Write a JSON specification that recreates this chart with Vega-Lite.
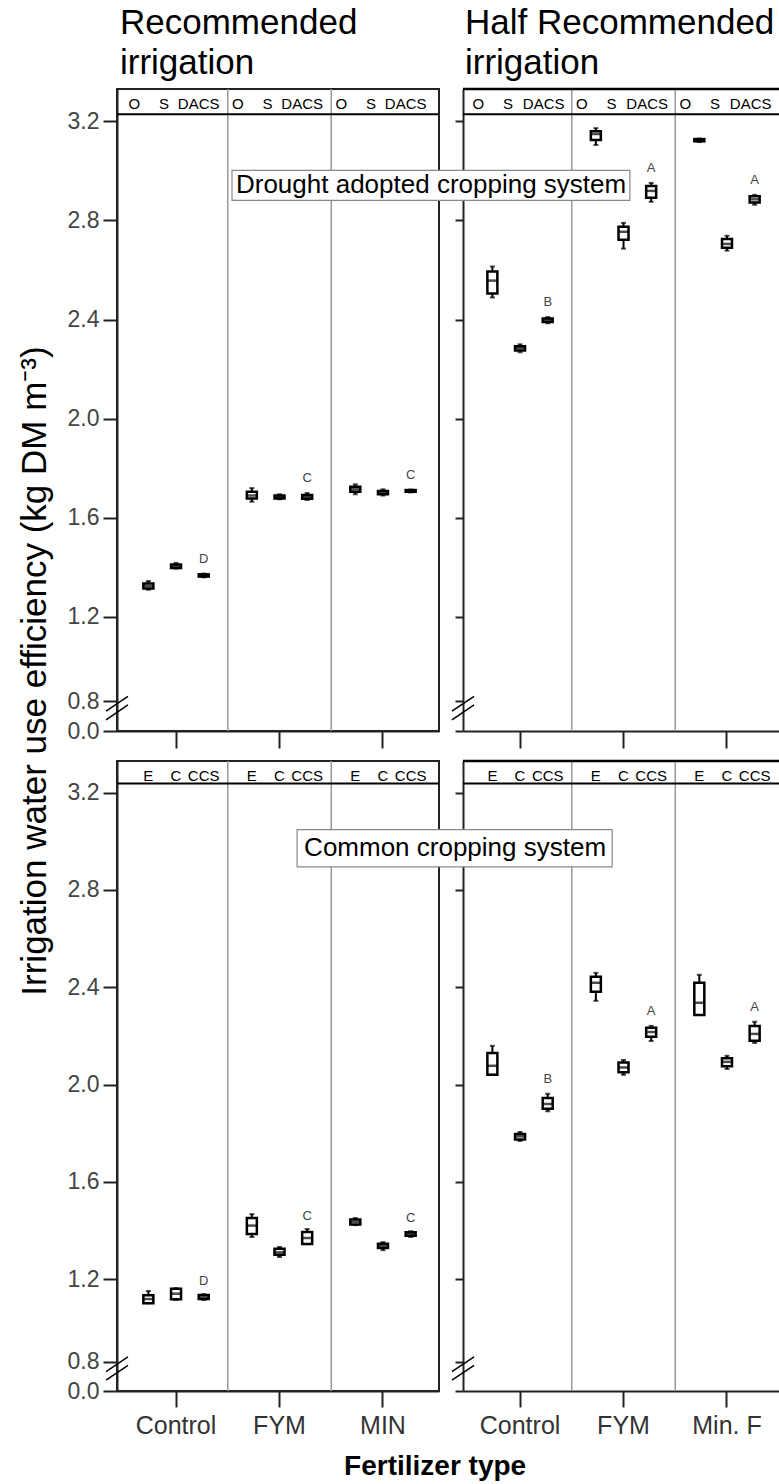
{
  "$schema": "https://vega.github.io/schema/vega-lite/v6.json",
  "padding": {"left": 16, "top": 4, "right": 0, "bottom": 0},
  "background": "white",
  "config": {
    "font": "Liberation Sans",
    "view": {"stroke": "#222", "strokeWidth": 2},
    "axis": {"grid": false}
  },
  "datasets": {
    "iwue": [
      {"irrigation": "Recommended", "system": "DACS", "fertilizer": "Control", "treatment": "O", "lo": 1.31, "q1": 1.315, "median": 1.325, "q3": 1.335, "hi": 1.345},
      {"irrigation": "Recommended", "system": "DACS", "fertilizer": "Control", "treatment": "S", "lo": 1.395, "q1": 1.398, "median": 1.405, "q3": 1.412, "hi": 1.418},
      {"irrigation": "Recommended", "system": "DACS", "fertilizer": "Control", "treatment": "DACS", "lo": 1.36, "q1": 1.363, "median": 1.367, "q3": 1.372, "hi": 1.375, "letter": "D"},
      {"irrigation": "Recommended", "system": "DACS", "fertilizer": "FYM", "treatment": "O", "lo": 1.665, "q1": 1.678, "median": 1.69, "q3": 1.705, "hi": 1.72},
      {"irrigation": "Recommended", "system": "DACS", "fertilizer": "FYM", "treatment": "S", "lo": 1.675, "q1": 1.678, "median": 1.683, "q3": 1.69, "hi": 1.695},
      {"irrigation": "Recommended", "system": "DACS", "fertilizer": "FYM", "treatment": "DACS", "lo": 1.672, "q1": 1.677, "median": 1.683, "q3": 1.692, "hi": 1.7, "letter": "C"},
      {"irrigation": "Recommended", "system": "DACS", "fertilizer": "MIN", "treatment": "O", "lo": 1.695, "q1": 1.705, "median": 1.715, "q3": 1.725, "hi": 1.735},
      {"irrigation": "Recommended", "system": "DACS", "fertilizer": "MIN", "treatment": "S", "lo": 1.69, "q1": 1.695, "median": 1.7, "q3": 1.708, "hi": 1.715},
      {"irrigation": "Recommended", "system": "DACS", "fertilizer": "MIN", "treatment": "DACS", "lo": 1.703, "q1": 1.705, "median": 1.708, "q3": 1.712, "hi": 1.714, "letter": "C"},
      {"irrigation": "Half", "system": "DACS", "fertilizer": "Control", "treatment": "O", "lo": 2.489, "q1": 2.505, "median": 2.557, "q3": 2.594, "hi": 2.614},
      {"irrigation": "Half", "system": "DACS", "fertilizer": "Control", "treatment": "S", "lo": 2.268, "q1": 2.275, "median": 2.284, "q3": 2.292, "hi": 2.3},
      {"irrigation": "Half", "system": "DACS", "fertilizer": "Control", "treatment": "DACS", "lo": 2.385, "q1": 2.39, "median": 2.397, "q3": 2.404, "hi": 2.41, "letter": "B"},
      {"irrigation": "Half", "system": "DACS", "fertilizer": "FYM", "treatment": "O", "lo": 3.104, "q1": 3.124, "median": 3.148, "q3": 3.16, "hi": 3.172},
      {"irrigation": "Half", "system": "DACS", "fertilizer": "FYM", "treatment": "S", "lo": 2.686, "q1": 2.722, "median": 2.754, "q3": 2.774, "hi": 2.79},
      {"irrigation": "Half", "system": "DACS", "fertilizer": "FYM", "treatment": "DACS", "lo": 2.875, "q1": 2.891, "median": 2.919, "q3": 2.939, "hi": 2.951, "letter": "A"},
      {"irrigation": "Half", "system": "DACS", "fertilizer": "Min. F", "treatment": "O", "lo": 3.116, "q1": 3.119, "median": 3.124, "q3": 3.128, "hi": 3.13},
      {"irrigation": "Half", "system": "DACS", "fertilizer": "Min. F", "treatment": "S", "lo": 2.678, "q1": 2.69, "median": 2.705, "q3": 2.725, "hi": 2.738},
      {"irrigation": "Half", "system": "DACS", "fertilizer": "Min. F", "treatment": "DACS", "lo": 2.863, "q1": 2.872, "median": 2.885, "q3": 2.897, "hi": 2.903, "letter": "A"},
      {"irrigation": "Recommended", "system": "CCS", "fertilizer": "Control", "treatment": "E", "lo": 1.101, "q1": 1.101, "median": 1.118, "q3": 1.134, "hi": 1.151},
      {"irrigation": "Recommended", "system": "CCS", "fertilizer": "Control", "treatment": "C", "lo": 1.114, "q1": 1.117, "median": 1.14, "q3": 1.16, "hi": 1.163},
      {"irrigation": "Recommended", "system": "CCS", "fertilizer": "Control", "treatment": "CCS", "lo": 1.114, "q1": 1.118, "median": 1.125, "q3": 1.135, "hi": 1.138, "letter": "D"},
      {"irrigation": "Recommended", "system": "CCS", "fertilizer": "FYM", "treatment": "E", "lo": 1.373, "q1": 1.385, "median": 1.42, "q3": 1.451, "hi": 1.467},
      {"irrigation": "Recommended", "system": "CCS", "fertilizer": "FYM", "treatment": "C", "lo": 1.291, "q1": 1.3, "median": 1.31, "q3": 1.325, "hi": 1.332},
      {"irrigation": "Recommended", "system": "CCS", "fertilizer": "FYM", "treatment": "CCS", "lo": 1.344, "q1": 1.344, "median": 1.369, "q3": 1.394, "hi": 1.406, "letter": "C"},
      {"irrigation": "Recommended", "system": "CCS", "fertilizer": "MIN", "treatment": "E", "lo": 1.422, "q1": 1.425, "median": 1.435, "q3": 1.445, "hi": 1.451},
      {"irrigation": "Recommended", "system": "CCS", "fertilizer": "MIN", "treatment": "C", "lo": 1.319, "q1": 1.328, "median": 1.337, "q3": 1.345, "hi": 1.352},
      {"irrigation": "Recommended", "system": "CCS", "fertilizer": "MIN", "treatment": "CCS", "lo": 1.373, "q1": 1.378, "median": 1.385, "q3": 1.393, "hi": 1.397, "letter": "C"},
      {"irrigation": "Half", "system": "CCS", "fertilizer": "Control", "treatment": "E", "lo": 2.04, "q1": 2.04, "median": 2.077, "q3": 2.13, "hi": 2.159},
      {"irrigation": "Half", "system": "CCS", "fertilizer": "Control", "treatment": "C", "lo": 1.768, "q1": 1.774, "median": 1.787, "q3": 1.797, "hi": 1.805},
      {"irrigation": "Half", "system": "CCS", "fertilizer": "Control", "treatment": "CCS", "lo": 1.89, "q1": 1.9, "median": 1.92, "q3": 1.945, "hi": 1.962, "letter": "B"},
      {"irrigation": "Half", "system": "CCS", "fertilizer": "FYM", "treatment": "E", "lo": 2.344, "q1": 2.381, "median": 2.418, "q3": 2.443, "hi": 2.459},
      {"irrigation": "Half", "system": "CCS", "fertilizer": "FYM", "treatment": "C", "lo": 2.04, "q1": 2.05, "median": 2.07, "q3": 2.09, "hi": 2.101},
      {"irrigation": "Half", "system": "CCS", "fertilizer": "FYM", "treatment": "CCS", "lo": 2.179, "q1": 2.196, "median": 2.216, "q3": 2.233, "hi": 2.241, "letter": "A"},
      {"irrigation": "Half", "system": "CCS", "fertilizer": "Min. F", "treatment": "E", "lo": 2.286, "q1": 2.286, "median": 2.336, "q3": 2.418, "hi": 2.451},
      {"irrigation": "Half", "system": "CCS", "fertilizer": "Min. F", "treatment": "C", "lo": 2.064, "q1": 2.075, "median": 2.093, "q3": 2.108, "hi": 2.118},
      {"irrigation": "Half", "system": "CCS", "fertilizer": "Min. F", "treatment": "CCS", "lo": 2.171, "q1": 2.18, "median": 2.208, "q3": 2.241, "hi": 2.258, "letter": "A"}
    ]
  },
  "columns": 2,
  "spacing": {"row": 30, "column": 24},
  "bounds": "flush",
  "resolve": {"scale": {"x": "independent", "y": "independent", "xOffset": "independent"}},
  "concat": [
    {
      "width": 322, "height": 642,
      "title": {"text": ["Recommended", "irrigation"], "anchor": "start", "frame": "group", "fontSize": 35, "fontWeight": "normal", "lineHeight": 40, "color": "#000", "offset": 7, "dx": 3},
      "layer": [
        {
          "data": {"name": "iwue"},
          "transform": [{"filter": "datum.irrigation === 'Recommended' && datum.system === 'DACS'"}],
          "layer": [
            {
              "encoding": {
                "x": {"field": "fertilizer", "type": "nominal", "title": null, "scale": {"domain": ["Control", "FYM", "MIN"], "paddingInner": 0, "paddingOuter": 0.056, "align": 0.63}, "axis": {"labels": false, "ticks": true, "tickSize": 17, "tickWidth": 2, "tickColor": "#222", "domainColor": "#222", "domainWidth": 2, "grid": false, "title": null}},
                "xOffset": {"field": "treatment", "type": "nominal", "scale": {"domain": ["O", "S", "DACS"], "paddingInner": 0, "paddingOuter": 0.37}}
              },
              "layer": [
                {"mark": {"type": "rule", "color": "#000", "strokeWidth": 2}, "encoding": {"y": {"field": "lo", "type": "quantitative", "title": null, "scale": {"domain": [0.74, 3.33], "nice": false, "zero": false}, "axis": {"values": [0.74, 0.86, 1.2, 1.6, 2.0, 2.4, 2.8, 3.2], "labelExpr": "datum.value < 0.8 ? '0.0' : datum.value < 1 ? '0.8' : format(datum.value, '.1f')", "labels": true, "tickSize": 14, "tickWidth": 2, "tickColor": "#222", "domainColor": "#222", "domainWidth": 2, "labelFontSize": 23, "labelColor": "#444", "labelPadding": 4, "labelOverlap": false, "labelFlush": false, "grid": false, "title": null}}, "y2": {"field": "hi"}}},
                {"mark": {"type": "bar", "width": 10, "fill": "#fff", "stroke": "#000", "strokeWidth": 2.5}, "encoding": {"y": {"field": "q1", "type": "quantitative", "title": null}, "y2": {"field": "q3"}}},
                {"mark": {"type": "tick", "color": "#000", "size": 10, "thickness": 2.5, "orient": "horizontal"}, "encoding": {"y": {"field": "median", "type": "quantitative", "title": null}}},
                {"mark": {"type": "tick", "color": "#000", "size": 5, "thickness": 2, "orient": "horizontal"}, "encoding": {"y": {"field": "lo", "type": "quantitative", "title": null}}},
                {"mark": {"type": "tick", "color": "#000", "size": 5, "thickness": 2, "orient": "horizontal"}, "encoding": {"y": {"field": "hi", "type": "quantitative", "title": null}}},
                {"transform": [{"filter": "datum.treatment === 'O'"}], "mark": {"type": "text", "fontSize": 15, "color": "#000", "baseline": "middle", "dx": -14}, "encoding": {"y": {"datum": 3.27, "type": "quantitative", "title": null}, "text": {"field": "treatment"}}},
                {"transform": [{"filter": "datum.treatment === 'S'"}], "mark": {"type": "text", "fontSize": 15, "color": "#000", "baseline": "middle", "dx": -12}, "encoding": {"y": {"datum": 3.27, "type": "quantitative", "title": null}, "text": {"field": "treatment"}}},
                {"transform": [{"filter": "datum.treatment === 'DACS'"}], "mark": {"type": "text", "fontSize": 15, "color": "#000", "baseline": "middle", "dx": -5}, "encoding": {"y": {"datum": 3.27, "type": "quantitative", "title": null}, "text": {"field": "treatment"}}},
                {"transform": [{"filter": "datum.letter"}], "mark": {"type": "text", "fontSize": 13, "color": "#444", "baseline": "bottom", "dy": -8}, "encoding": {"y": {"field": "hi", "type": "quantitative", "title": null}, "text": {"field": "letter"}}}
              ]
            },
            {
              "transform": [{"filter": "datum.treatment === 'O' && datum.fertilizer !== 'Control'"}],
              "mark": {"type": "rule", "color": "#999", "strokeWidth": 1.5},
              "encoding": {"x": {"field": "fertilizer", "type": "nominal", "bandPosition": 0, "title": null, "scale": {"domain": ["Control", "FYM", "MIN"], "paddingInner": 0, "paddingOuter": 0.056, "align": 0.63}}}
            }
          ]
        },
        {
          "data": {"values": [{}]},
          "layer": [
            {"mark": {"type": "rule", "color": "#000", "strokeWidth": 2}, "encoding": {"y": {"datum": 3.228, "type": "quantitative", "title": null, "scale": {"domain": [0.74, 3.33], "nice": false, "zero": false}}}},
            {"mark": {"type": "rule", "color": "#000", "strokeWidth": 1.5}, "encoding": {"x": {"datum": -0.034, "type": "quantitative", "scale": {"domain": [0, 1], "nice": false, "zero": false}, "axis": null}, "x2": {"datum": 0.034}, "y": {"datum": 0.82, "type": "quantitative", "title": null}, "y2": {"datum": 0.88}}},
            {"mark": {"type": "rule", "color": "#000", "strokeWidth": 1.5}, "encoding": {"x": {"datum": -0.034, "type": "quantitative", "axis": null}, "x2": {"datum": 0.034}, "y": {"datum": 0.785, "type": "quantitative", "title": null}, "y2": {"datum": 0.845}}},
            {"mark": {"type": "text", "text": "Irrigation water use efficiency (kg DM m⁻³)", "angle": 270, "fontSize": 35, "color": "#000", "align": "center", "baseline": "middle"}, "encoding": {"x": {"datum": -0.2547, "type": "quantitative", "axis": null}, "y": {"datum": 0.982, "type": "quantitative", "title": null}}}
          ]
        }
      ],
      "resolve": {"scale": {"x": "independent"}}
    },
    {
      "width": 316, "height": 642,
      "view": {"stroke": "transparent"},
      "title": {"text": ["Half Recommended", "irrigation"], "anchor": "start", "frame": "group", "fontSize": 35, "fontWeight": "normal", "lineHeight": 40, "color": "#000", "offset": 7, "dx": 2},
      "layer": [
        {
          "data": {"name": "iwue"},
          "transform": [{"filter": "datum.irrigation === 'Half' && datum.system === 'DACS'"}],
          "layer": [
            {
              "encoding": {
                "x": {"field": "fertilizer", "type": "nominal", "title": null, "scale": {"domain": ["Control", "FYM", "Min. F"], "paddingInner": 0, "paddingOuter": 0.027, "align": 0.95}, "axis": {"labels": false, "ticks": true, "tickSize": 17, "tickWidth": 2, "tickColor": "#222", "domainColor": "#222", "domainWidth": 2, "grid": false, "title": null}},
                "xOffset": {"field": "treatment", "type": "nominal", "scale": {"domain": ["O", "S", "DACS"], "paddingInner": 0, "paddingOuter": 0.37}}
              },
              "layer": [
                {"mark": {"type": "rule", "color": "#000", "strokeWidth": 2}, "encoding": {"y": {"field": "lo", "type": "quantitative", "title": null, "scale": {"domain": [0.74, 3.33], "nice": false, "zero": false}, "axis": {"values": [0.74, 0.86, 1.2, 1.6, 2.0, 2.4, 2.8, 3.2], "labels": false, "tickSize": 8, "tickWidth": 2, "tickColor": "#222", "domainColor": "#222", "domainWidth": 2, "grid": false, "title": null}}, "y2": {"field": "hi"}}},
                {"mark": {"type": "bar", "width": 10, "fill": "#fff", "stroke": "#000", "strokeWidth": 2.5}, "encoding": {"y": {"field": "q1", "type": "quantitative", "title": null}, "y2": {"field": "q3"}}},
                {"mark": {"type": "tick", "color": "#000", "size": 10, "thickness": 2.5, "orient": "horizontal"}, "encoding": {"y": {"field": "median", "type": "quantitative", "title": null}}},
                {"mark": {"type": "tick", "color": "#000", "size": 5, "thickness": 2, "orient": "horizontal"}, "encoding": {"y": {"field": "lo", "type": "quantitative", "title": null}}},
                {"mark": {"type": "tick", "color": "#000", "size": 5, "thickness": 2, "orient": "horizontal"}, "encoding": {"y": {"field": "hi", "type": "quantitative", "title": null}}},
                {"transform": [{"filter": "datum.treatment === 'O'"}], "mark": {"type": "text", "fontSize": 15, "color": "#000", "baseline": "middle", "dx": -14}, "encoding": {"y": {"datum": 3.27, "type": "quantitative", "title": null}, "text": {"field": "treatment"}}},
                {"transform": [{"filter": "datum.treatment === 'S'"}], "mark": {"type": "text", "fontSize": 15, "color": "#000", "baseline": "middle", "dx": -12}, "encoding": {"y": {"datum": 3.27, "type": "quantitative", "title": null}, "text": {"field": "treatment"}}},
                {"transform": [{"filter": "datum.treatment === 'DACS'"}], "mark": {"type": "text", "fontSize": 15, "color": "#000", "baseline": "middle", "dx": -4}, "encoding": {"y": {"datum": 3.27, "type": "quantitative", "title": null}, "text": {"field": "treatment"}}},
                {"transform": [{"filter": "datum.letter"}], "mark": {"type": "text", "fontSize": 13, "color": "#444", "baseline": "bottom", "dy": -8}, "encoding": {"y": {"field": "hi", "type": "quantitative", "title": null}, "text": {"field": "letter"}}}
              ]
            },
            {
              "transform": [{"filter": "datum.treatment === 'O' && datum.fertilizer !== 'Control'"}],
              "mark": {"type": "rule", "color": "#999", "strokeWidth": 1.5},
              "encoding": {"x": {"field": "fertilizer", "type": "nominal", "bandPosition": 0, "title": null, "scale": {"domain": ["Control", "FYM", "Min. F"], "paddingInner": 0, "paddingOuter": 0.027, "align": 0.95}}}
            }
          ]
        },
        {
          "data": {"values": [{}]},
          "layer": [
            {"mark": {"type": "rule", "color": "#000", "strokeWidth": 2}, "encoding": {"y": {"datum": 3.228, "type": "quantitative", "title": null, "scale": {"domain": [0.74, 3.33], "nice": false, "zero": false}}}},
            {"mark": {"type": "rule", "color": "#000", "strokeWidth": 2.5}, "encoding": {"y": {"datum": 3.33, "type": "quantitative", "title": null}}},
            {"mark": {"type": "rule", "color": "#000", "strokeWidth": 1.5}, "encoding": {"x": {"datum": -0.035, "type": "quantitative", "scale": {"domain": [0, 1], "nice": false, "zero": false}, "axis": null}, "x2": {"datum": 0.035}, "y": {"datum": 0.82, "type": "quantitative", "title": null}, "y2": {"datum": 0.88}}},
            {"mark": {"type": "rule", "color": "#000", "strokeWidth": 1.5}, "encoding": {"x": {"datum": -0.035, "type": "quantitative", "axis": null}, "x2": {"datum": 0.035}, "y": {"datum": 0.785, "type": "quantitative", "title": null}, "y2": {"datum": 0.845}}},
            {"mark": {"type": "rect", "fill": "#fff", "stroke": "#888", "strokeWidth": 1.2}, "encoding": {"x": {"datum": -0.731, "type": "quantitative", "axis": null}, "x2": {"datum": 0.528}, "y": {"datum": 3.002, "type": "quantitative", "title": null}, "y2": {"datum": 2.881}}},
            {"mark": {"type": "text", "text": "Drought adopted cropping system", "fontSize": 26, "color": "#000", "align": "center", "baseline": "middle"}, "encoding": {"x": {"datum": -0.101, "type": "quantitative", "axis": null}, "y": {"datum": 2.942, "type": "quantitative", "title": null}}}
          ]
        }
      ],
      "resolve": {"scale": {"x": "independent"}}
    },
    {
      "width": 322, "height": 630,
      "layer": [
        {
          "data": {"name": "iwue"},
          "transform": [{"filter": "datum.irrigation === 'Recommended' && datum.system === 'CCS'"}],
          "layer": [
            {
              "encoding": {
                "x": {"field": "fertilizer", "type": "nominal", "title": null, "scale": {"domain": ["Control", "FYM", "MIN"], "paddingInner": 0, "paddingOuter": 0.056, "align": 0.63}, "axis": {"labels": true, "labelFontSize": 25, "labelColor": "#333", "labelPadding": 6, "labelAngle": 0, "ticks": true, "tickSize": 16, "tickWidth": 2, "tickColor": "#222", "domainColor": "#222", "domainWidth": 2, "grid": false, "title": null}},
                "xOffset": {"field": "treatment", "type": "nominal", "scale": {"domain": ["E", "C", "CCS"], "paddingInner": 0, "paddingOuter": 0.37}}
              },
              "layer": [
                {"mark": {"type": "rule", "color": "#000", "strokeWidth": 2}, "encoding": {"y": {"field": "lo", "type": "quantitative", "title": null, "scale": {"domain": [0.74, 3.33], "nice": false, "zero": false}, "axis": {"values": [0.74, 0.86, 1.2, 1.6, 2.0, 2.4, 2.8, 3.2], "labelExpr": "datum.value < 0.8 ? '0.0' : datum.value < 1 ? '0.8' : format(datum.value, '.1f')", "labels": true, "tickSize": 14, "tickWidth": 2, "tickColor": "#222", "domainColor": "#222", "domainWidth": 2, "labelFontSize": 23, "labelColor": "#444", "labelPadding": 4, "labelOverlap": false, "labelFlush": false, "grid": false, "title": null}}, "y2": {"field": "hi"}}},
                {"mark": {"type": "bar", "width": 10, "fill": "#fff", "stroke": "#000", "strokeWidth": 2.5}, "encoding": {"y": {"field": "q1", "type": "quantitative", "title": null}, "y2": {"field": "q3"}}},
                {"mark": {"type": "tick", "color": "#000", "size": 10, "thickness": 2.5, "orient": "horizontal"}, "encoding": {"y": {"field": "median", "type": "quantitative", "title": null}}},
                {"mark": {"type": "tick", "color": "#000", "size": 5, "thickness": 2, "orient": "horizontal"}, "encoding": {"y": {"field": "lo", "type": "quantitative", "title": null}}},
                {"mark": {"type": "tick", "color": "#000", "size": 5, "thickness": 2, "orient": "horizontal"}, "encoding": {"y": {"field": "hi", "type": "quantitative", "title": null}}},
                {"mark": {"type": "text", "fontSize": 15, "color": "#000", "baseline": "middle"}, "encoding": {"y": {"datum": 3.268, "type": "quantitative", "title": null}, "text": {"field": "treatment"}}},
                {"transform": [{"filter": "datum.letter"}], "mark": {"type": "text", "fontSize": 13, "color": "#444", "baseline": "bottom", "dy": -6}, "encoding": {"y": {"field": "hi", "type": "quantitative", "title": null}, "text": {"field": "letter"}}}
              ]
            },
            {
              "transform": [{"filter": "datum.treatment === 'E' && datum.fertilizer !== 'Control'"}],
              "mark": {"type": "rule", "color": "#999", "strokeWidth": 1.5},
              "encoding": {"x": {"field": "fertilizer", "type": "nominal", "bandPosition": 0, "title": null, "scale": {"domain": ["Control", "FYM", "MIN"], "paddingInner": 0, "paddingOuter": 0.056, "align": 0.63}}}
            }
          ]
        },
        {
          "data": {"values": [{}]},
          "layer": [
            {"mark": {"type": "rule", "color": "#000", "strokeWidth": 2}, "encoding": {"y": {"datum": 3.237, "type": "quantitative", "title": null, "scale": {"domain": [0.74, 3.33], "nice": false, "zero": false}}}},
            {"mark": {"type": "rule", "color": "#000", "strokeWidth": 1.5}, "encoding": {"x": {"datum": -0.034, "type": "quantitative", "scale": {"domain": [0, 1], "nice": false, "zero": false}, "axis": null}, "x2": {"datum": 0.034}, "y": {"datum": 0.82, "type": "quantitative", "title": null}, "y2": {"datum": 0.88}}},
            {"mark": {"type": "rule", "color": "#000", "strokeWidth": 1.5}, "encoding": {"x": {"datum": -0.034, "type": "quantitative", "axis": null}, "x2": {"datum": 0.034}, "y": {"datum": 0.785, "type": "quantitative", "title": null}, "y2": {"datum": 0.845}}},
            {"mark": {"type": "text", "text": "Fertilizer type", "fontSize": 28, "fontWeight": "bold", "color": "#000", "align": "center", "baseline": "middle"}, "encoding": {"x": {"datum": 0.988, "type": "quantitative", "axis": null}, "y": {"datum": 0.426, "type": "quantitative", "title": null}}}
          ]
        }
      ],
      "resolve": {"scale": {"x": "independent"}}
    },
    {
      "width": 316, "height": 630,
      "view": {"stroke": "transparent"},
      "layer": [
        {
          "data": {"name": "iwue"},
          "transform": [{"filter": "datum.irrigation === 'Half' && datum.system === 'CCS'"}],
          "layer": [
            {
              "encoding": {
                "x": {"field": "fertilizer", "type": "nominal", "title": null, "scale": {"domain": ["Control", "FYM", "Min. F"], "paddingInner": 0, "paddingOuter": 0.027, "align": 0.95}, "axis": {"labels": true, "labelFontSize": 25, "labelColor": "#333", "labelPadding": 6, "labelAngle": 0, "ticks": true, "tickSize": 16, "tickWidth": 2, "tickColor": "#222", "domainColor": "#222", "domainWidth": 2, "grid": false, "title": null}},
                "xOffset": {"field": "treatment", "type": "nominal", "scale": {"domain": ["E", "C", "CCS"], "paddingInner": 0, "paddingOuter": 0.37}}
              },
              "layer": [
                {"mark": {"type": "rule", "color": "#000", "strokeWidth": 2}, "encoding": {"y": {"field": "lo", "type": "quantitative", "title": null, "scale": {"domain": [0.74, 3.33], "nice": false, "zero": false}, "axis": {"values": [0.74, 0.86, 1.2, 1.6, 2.0, 2.4, 2.8, 3.2], "labels": false, "tickSize": 8, "tickWidth": 2, "tickColor": "#222", "domainColor": "#222", "domainWidth": 2, "grid": false, "title": null}}, "y2": {"field": "hi"}}},
                {"mark": {"type": "bar", "width": 10, "fill": "#fff", "stroke": "#000", "strokeWidth": 2.5}, "encoding": {"y": {"field": "q1", "type": "quantitative", "title": null}, "y2": {"field": "q3"}}},
                {"mark": {"type": "tick", "color": "#000", "size": 10, "thickness": 2.5, "orient": "horizontal"}, "encoding": {"y": {"field": "median", "type": "quantitative", "title": null}}},
                {"mark": {"type": "tick", "color": "#000", "size": 5, "thickness": 2, "orient": "horizontal"}, "encoding": {"y": {"field": "lo", "type": "quantitative", "title": null}}},
                {"mark": {"type": "tick", "color": "#000", "size": 5, "thickness": 2, "orient": "horizontal"}, "encoding": {"y": {"field": "hi", "type": "quantitative", "title": null}}},
                {"mark": {"type": "text", "fontSize": 15, "color": "#000", "baseline": "middle"}, "encoding": {"y": {"datum": 3.268, "type": "quantitative", "title": null}, "text": {"field": "treatment"}}},
                {"transform": [{"filter": "datum.letter"}], "mark": {"type": "text", "fontSize": 13, "color": "#444", "baseline": "bottom", "dy": -8}, "encoding": {"y": {"field": "hi", "type": "quantitative", "title": null}, "text": {"field": "letter"}}}
              ]
            },
            {
              "transform": [{"filter": "datum.treatment === 'E' && datum.fertilizer !== 'Control'"}],
              "mark": {"type": "rule", "color": "#999", "strokeWidth": 1.5},
              "encoding": {"x": {"field": "fertilizer", "type": "nominal", "bandPosition": 0, "title": null, "scale": {"domain": ["Control", "FYM", "Min. F"], "paddingInner": 0, "paddingOuter": 0.027, "align": 0.95}}}
            }
          ]
        },
        {
          "data": {"values": [{}]},
          "layer": [
            {"mark": {"type": "rule", "color": "#000", "strokeWidth": 2}, "encoding": {"y": {"datum": 3.237, "type": "quantitative", "title": null, "scale": {"domain": [0.74, 3.33], "nice": false, "zero": false}}}},
            {"mark": {"type": "rule", "color": "#000", "strokeWidth": 2.5}, "encoding": {"y": {"datum": 3.33, "type": "quantitative", "title": null}}},
            {"mark": {"type": "rule", "color": "#000", "strokeWidth": 1.5}, "encoding": {"x": {"datum": -0.035, "type": "quantitative", "scale": {"domain": [0, 1], "nice": false, "zero": false}, "axis": null}, "x2": {"datum": 0.035}, "y": {"datum": 0.82, "type": "quantitative", "title": null}, "y2": {"datum": 0.88}}},
            {"mark": {"type": "rule", "color": "#000", "strokeWidth": 1.5}, "encoding": {"x": {"datum": -0.035, "type": "quantitative", "axis": null}, "x2": {"datum": 0.035}, "y": {"datum": 0.785, "type": "quantitative", "title": null}, "y2": {"datum": 0.845}}},
            {"mark": {"type": "rect", "fill": "#fff", "stroke": "#888", "strokeWidth": 1.2}, "encoding": {"x": {"datum": -0.525, "type": "quantitative", "axis": null}, "x2": {"datum": 0.472}, "y": {"datum": 3.048, "type": "quantitative", "title": null}, "y2": {"datum": 2.895}}},
            {"mark": {"type": "text", "text": "Common cropping system", "fontSize": 26, "color": "#000", "align": "center", "baseline": "middle"}, "encoding": {"x": {"datum": -0.025, "type": "quantitative", "axis": null}, "y": {"datum": 2.974, "type": "quantitative", "title": null}}}
          ]
        }
      ],
      "resolve": {"scale": {"x": "independent"}}
    }
  ]
}
